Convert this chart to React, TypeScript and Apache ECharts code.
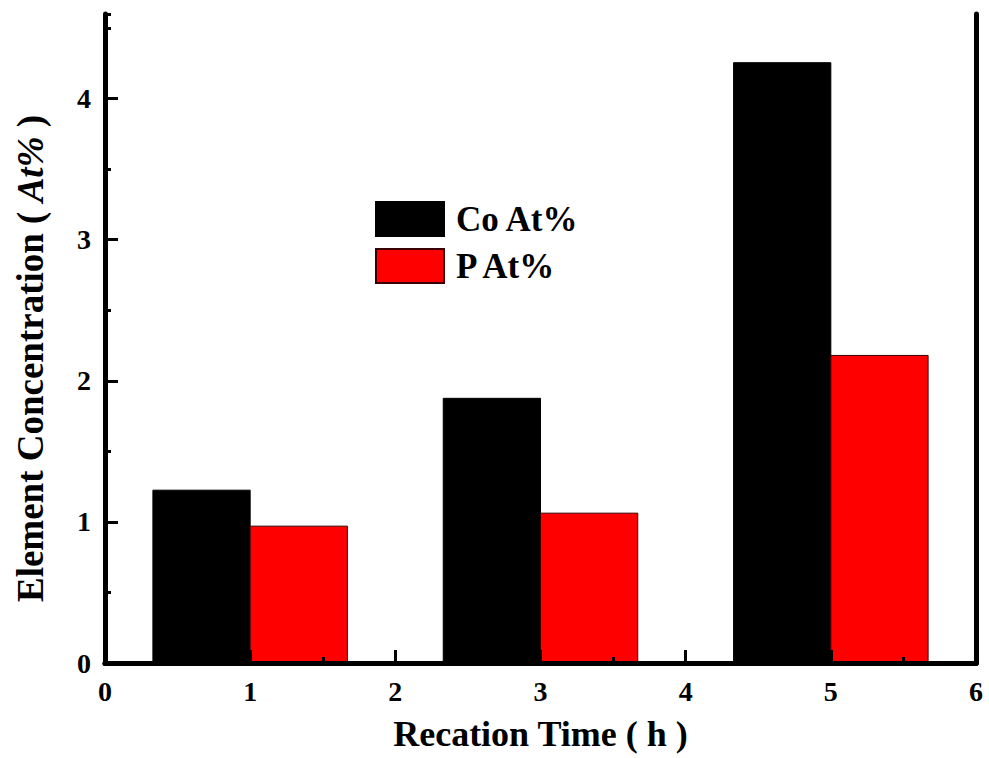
import React, { useEffect, useRef } from "react";
import * as echarts from "echarts";

const times = [1, 3, 5];
const coValues = [1.225, 1.876, 4.255];
const pValues = [0.97, 1.062, 2.18];
const seriesNames = ["Co At%", "P At%"];
const yMajorTicks = [0, 1, 2, 3, 4];

const FONT = "'Liberation Serif', 'Times New Roman', serif";
const HALF = 0.67;
const LW = 5;

function makeRender(side: number, fill: string, stroke: string) {
  return (params: any, api: any) => {
    const x = api.value(0);
    const y = api.value(1);
    const xa = side < 0 ? x - HALF : x;
    const xb = side < 0 ? x : x + HALF;
    const p0 = api.coord([xa, y]);
    const p1 = api.coord([xb, 0]);
    return {
      type: "rect",
      shape: { x: p0[0], y: p0[1], width: p1[0] - p0[0], height: p1[1] - p0[1] },
      style: { fill, stroke, lineWidth: 1 },
    };
  };
}

export default function App() {
  const ref = useRef<HTMLDivElement>(null);
  useEffect(() => {
    if (!ref.current) return;
    const chart = echarts.init(ref.current, null, { renderer: "svg" });
    const axisFont = { fontFamily: FONT, fontWeight: "bold" as const, color: "#000" };
    const frameLine = () => ({ show: true, lineStyle: { color: "#000", width: LW } });
    const tickLine = () => ({ color: "#000", width: 3 });
    chart.setOption({
      animation: false,
      backgroundColor: "#fff",
      grid: { left: 105, right: 13, top: 14, bottom: 95 },
      legend: {
        data: seriesNames,
        orient: "vertical",
        left: 375,
        top: 201,
        padding: 0,
        itemWidth: 68,
        itemHeight: 34,
        itemGap: 11,
        icon: "rect",
        textStyle: { fontSize: 35, padding: [0, 0, 0, 7], ...axisFont },
      },
      xAxis: [
        {
          type: "value",
          min: 0,
          max: 6,
          interval: 1,
          z: 10,
          name: "Recation Time ( h )",
          nameLocation: "middle",
          nameGap: 53,
          nameTextStyle: { fontSize: 36, ...axisFont },
          axisLine: frameLine(),
          axisTick: { show: true, inside: true, length: 13, lineStyle: tickLine() },
          minorTick: { show: true, splitNumber: 2, length: 6, lineStyle: tickLine() },
          axisLabel: { fontSize: 28, margin: 14, ...axisFont },
          splitLine: { show: false },
        },
        {
          type: "value",
          position: "top",
          min: 0,
          max: 6,
          interval: 1,
          z: 10,
          axisLine: frameLine(),
          axisTick: { show: false },
          axisLabel: { show: false },
          splitLine: { show: false },
        },
      ],
      yAxis: [
        {
          type: "value",
          min: 0,
          max: 4.6,
          interval: 1,
          z: 10,
          name: "Element Concentration ( {i|At%} )",
          nameLocation: "middle",
          nameGap: 56,
          nameTextStyle: {
            fontSize: 37,
            padding: [0, 40, 0, 0],
            ...axisFont,
            rich: { i: { fontSize: 37, fontStyle: "italic", fontWeight: "bold", fontFamily: FONT, color: "#000" } },
          },
          axisLine: frameLine(),
          axisTick: { show: true, inside: true, length: 13, customValues: yMajorTicks, lineStyle: tickLine() },
          axisLabel: { fontSize: 28, margin: 14, customValues: yMajorTicks, ...axisFont },
          splitLine: { show: false },
        },
        {
          type: "value",
          min: 0,
          max: 4.6,
          interval: 0.5,
          position: "left",
          offset: 0,
          z: 9,
          axisLine: { show: false },
          axisTick: { show: true, inside: true, length: 6, lineStyle: tickLine() },
          axisLabel: { show: false },
          splitLine: { show: false },
        },
        {
          type: "value",
          min: 0,
          max: 4.6,
          position: "right",
          z: 10,
          axisLine: frameLine(),
          axisTick: { show: false },
          axisLabel: { show: false },
          splitLine: { show: false },
        },
      ],
      series: [
        {
          name: seriesNames[0],
          type: "custom",
          renderItem: makeRender(-1, "#000000", "#000000"),
          itemStyle: { color: "#000000", borderColor: "#000000", borderWidth: 1 },
          encode: { x: 0, y: 1 },
          data: times.map((t, i) => [t, coValues[i]]),
        },
        {
          name: seriesNames[1],
          type: "custom",
          renderItem: makeRender(1, "#ff0000", "#3a0000"),
          itemStyle: { color: "#ff0000", borderColor: "#3a0000", borderWidth: 1 },
          encode: { x: 0, y: 1 },
          data: times.map((t, i) => [t, pValues[i]]),
        },
      ],
    });
    return () => chart.dispose();
  }, []);
  return (
    <div
      ref={ref}
      style={{ position: "fixed", left: 0, top: 0, width: 989, height: 758, background: "#fff" }}
    />
  );
}
